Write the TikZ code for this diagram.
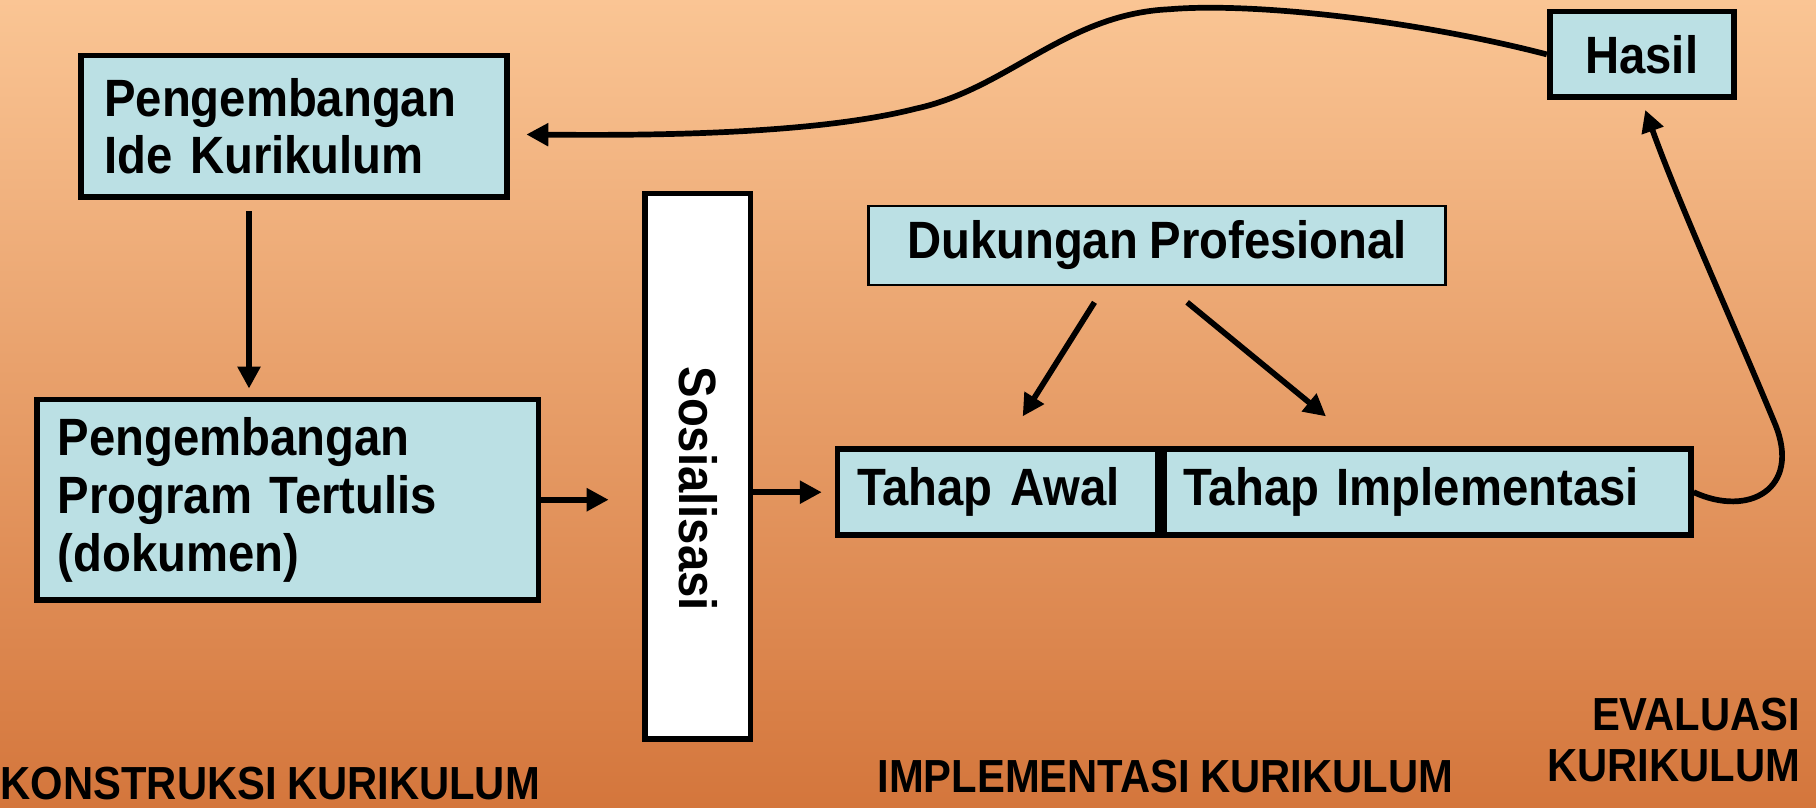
\documentclass[tikz,border=0pt]{standalone}
\usepackage{fontspec}
\setmainfont{Liberation Sans}[FakeStretch=0.9]
\usetikzlibrary{arrows.meta}
\definecolor{bgTop}{RGB}{250,197,148}
\definecolor{bgBottom}{RGB}{212,118,60}
\definecolor{boxColor}{RGB}{187,224,228}
\newcommand\tightspace{\spaceskip 0.22em plus 0.05em\relax}

\begin{document}
\begin{tikzpicture}[
    box/.style={draw, line width=1.4pt, fill=boxColor, inner sep=0pt, font={\bfseries\fontsize{12.9}{14.2}\selectfont\tightspace}},
    phase/.style={inner sep=0pt, font={\bfseries\fontsize{11.4}{12.6}\selectfont\tightspace}},
    flow/.style={-{Triangle[length=1.9mm,width=1.9mm]}, line width=1.4pt}
]
    % Background
    \useasboundingbox (0,0) rectangle (15.68,6.97);
    \shade[top color=bgTop, bottom color=bgBottom] (0,0) rectangle (15.68,6.97);

    % Construction
    \node[box, minimum width=3.68cm, minimum height=1.22cm, text width=3.28cm, align=left] (ide) at (2.54,5.88) {Pengembangan\\Ide Kurikulum};
    \node[box, minimum width=4.33cm, minimum height=1.73cm, text width=3.97cm, align=left] (prog) at (2.485,2.655) {Pengembangan\\Program Tertulis\\(dokumen)};
    \node[box, fill=white, rotate=-90, minimum width=4.71cm, minimum height=0.91cm] (sos) at (6.025,2.945) {\hspace*{3.9mm}Sosialisasi};

    % Implementation
    \node[box, minimum width=2.77cm, minimum height=0.74cm, text width=2.43cm, align=left] (awal) at (8.615,2.72) {Tahap Awal};
    \node[box, anchor=west, minimum width=4.55cm, minimum height=0.74cm, text width=4.21cm, align=left] (impl) at (awal.east) {Tahap Implementasi};
    \node[box, line width=0.6pt, minimum width=4.98cm, minimum height=0.68cm] (duk) at (9.99,4.85) {Dukungan Profesional};

    % Evaluation
    \node[box, minimum width=1.59cm, minimum height=0.74cm] (hasil) at (14.175,6.50) {Hasil};

    % Connectors
    \draw[flow, shorten <=1mm, shorten >=0.7mm] ([xshift=-3.9mm]ide.south) -- ([xshift=-3.9mm]ide.south |- prog.north);
    \draw[flow, shorten >=2.9mm] (prog.east) -- (prog.east -| sos.south);
    \draw[flow, shorten >=1.1mm] (sos.north |- awal.west) -- (awal.west);
    \draw[flow] ([xshift=-5.4mm,yshift=-1.4mm]duk.south) -- ([xshift=2.15mm,yshift=2.6mm]awal.north);
    \draw[flow] ([xshift=2.6mm,yshift=-1.4mm]duk.south) -- ([xshift=-8.75mm,yshift=2.6mm]impl.north);
    \draw[flow, shorten >=0.9mm] (impl.east) .. controls (15.1,2.5) and (15.55,2.75) .. (15.33,3.3)
        .. controls (15.0,4.1) and (14.5,5.2) .. (hasil.south);
    \draw[flow, shorten >=1.4mm] (hasil.west) .. controls (12.2,6.8) and (10.8,6.95) .. (10.1,6.89)
        .. controls (9.2,6.85) and (8.7,6.2) .. (7.9,6.03)
        .. controls (7.0,5.8) and (5.5,5.8) .. ([yshift=-0.7mm]ide.east);

    % Phase labels
    \node[phase, anchor=base west] (konstruksi) at (0.0,0.07) {KONSTRUKSI KURIKULUM};
    \node[phase, anchor=base west] (implementasi) at (7.57,0.13) {IMPLEMENTASI KURIKULUM};
    \node[phase, anchor=north east, align=right] (evaluasi) at (15.55,0.95) {EVALUASI\\KURIKULUM};
\end{tikzpicture}
\end{document}
